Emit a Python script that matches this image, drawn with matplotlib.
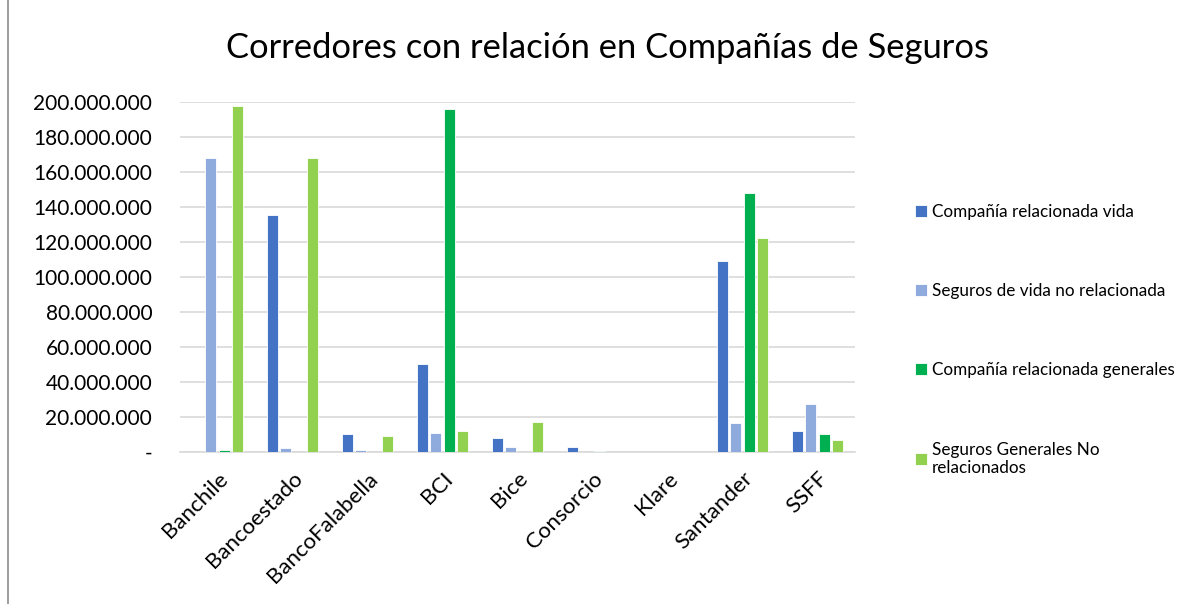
"""Corredores con relación en Compañías de Seguros - grouped bar chart."""
import matplotlib
matplotlib.use("Agg")
import matplotlib.pyplot as plt
from matplotlib.ticker import FuncFormatter
from matplotlib.lines import Line2D
import numpy as np

plt.rcParams["font.family"] = ["Lato", "DejaVu Sans"]

corredores = ["Banchile", "Bancoestado", "BancoFalabella", "BCI", "Bice",
              "Consorcio", "Klare", "Santander", "SSFF"]

# values in CLP (millions * 1e6)
vida_rel = np.array([0, 135.1, 10.1, 50.0, 7.8, 2.9, 0, 108.8, 11.8]) * 1e6
vida_no_rel = np.array([167.6, 2.3, 1.0, 10.5, 2.9, 0, 0, 16.6, 27.1]) * 1e6
gen_rel = np.array([1.2, 0, 0, 196.0, 0, 0.5, 0, 147.8, 9.9]) * 1e6
gen_no_rel = np.array([197.4, 167.6, 9.0, 12.0, 17.1, 0, 0, 122.1, 6.5]) * 1e6

series = [
    ("Compañía relacionada vida", vida_rel, "#4472C4"),
    ("Seguros de vida no relacionada", vida_no_rel, "#8FAADC"),
    ("Compañía relacionada generales", gen_rel, "#00B050"),
    ("Seguros Generales No\nrelacionados", gen_no_rel, "#92D050"),
]

fig = plt.figure(figsize=(11.97, 6.04), dpi=100)
ax = fig.add_axes([180 / 1197, 1 - 451.7 / 604, 675 / 1197, 350 / 604])

x = np.arange(len(corredores))
step = 0.18
width = 0.15
for i, (label, vals, color) in enumerate(series):
    ax.bar(x + (i - 1.5) * step, vals, width, color=color, label=label,
           edgecolor="white", linewidth=0.6, zorder=3)

ax.set_xlim(-0.5, len(corredores) - 0.5)
ax.set_ylim(0, 200e6)
ax.set_yticks(np.arange(0, 200e6 + 1, 20e6))


def fmt(v, pos):
    if v == 0:
        return "-"
    return f"{int(v):,}".replace(",", ".")


ax.yaxis.set_major_formatter(FuncFormatter(fmt))
ax.grid(axis="y", color="#D9D9D9", linewidth=1.2, zorder=0)
for s in ["top", "right", "left"]:
    ax.spines[s].set_visible(False)
ax.spines["bottom"].set_color("#D9D9D9")
ax.spines["bottom"].set_linewidth(1.2)
ax.tick_params(axis="both", length=0, colors="#000000")
ax.tick_params(axis="y", pad=20, labelsize=15)
ax.set_xticks(x)
ax.set_xticklabels(corredores, rotation=45, ha="right", rotation_mode="anchor",
                   fontsize=16)
ax.tick_params(axis="x", pad=12)

fig.text(607 / 1197, 1 - 48 / 604, "Corredores con relación en Compañías de Seguros",
         ha="center", va="center", fontsize=24.8)

ax.legend(loc="upper left", bbox_to_anchor=(915 / 1197, 1 - 204 / 604),
          bbox_transform=fig.transFigure, frameon=False, fontsize=12.3,
          labelspacing=3.7, handlelength=0.7, handleheight=0.7,
          handletextpad=0.3, borderpad=0, borderaxespad=0)

fig.add_artist(Line2D([8 / 1197, 8 / 1197], [0, 1], color="#8C8C8C", linewidth=1.2))

fig.savefig("out.png", dpi=100)
